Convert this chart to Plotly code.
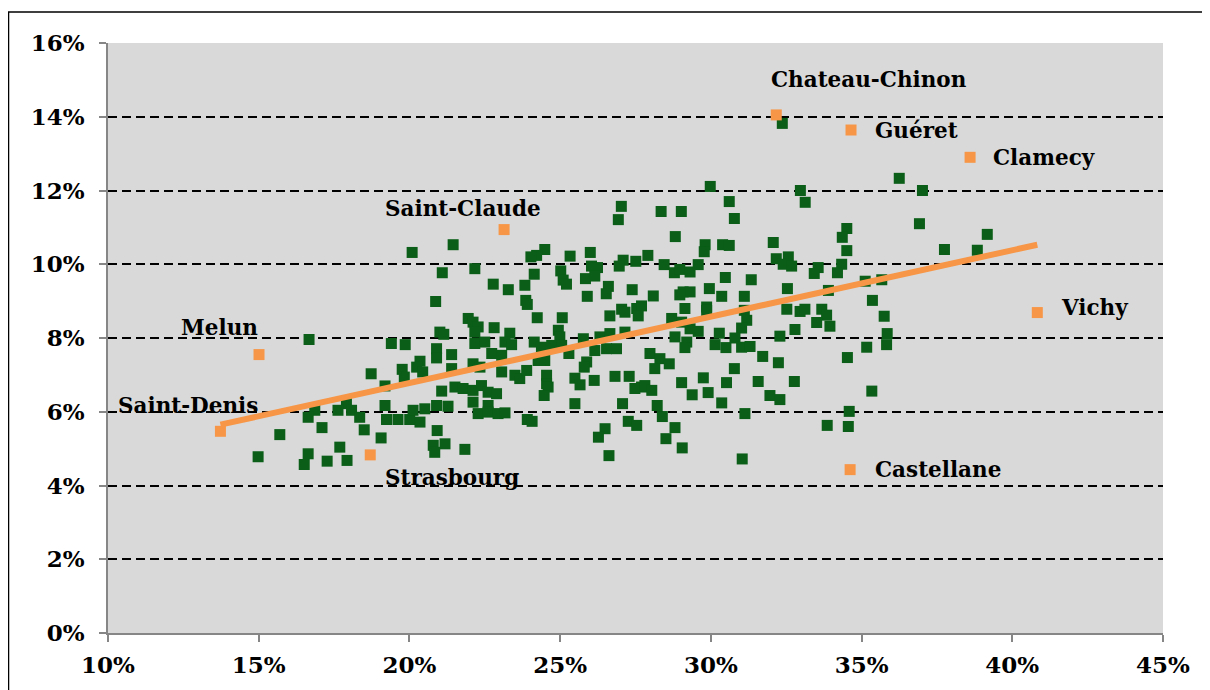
import plotly.graph_objects as go

# green points: (x %, y %)
other_x = [
    20.87, 16.67, 19.40, 19.86, 21.01, 20.90, 20.90, 20.35, 20.24, 20.44,
    19.76, 19.83, 18.73, 19.19, 21.07, 19.19, 17.91, 16.86, 17.63, 18.08,
    16.64, 18.35, 19.24, 19.62, 20.01, 20.35, 20.12, 20.51, 20.90, 17.10,
    18.50, 15.70, 20.92, 19.06, 17.69, 20.79, 20.84, 16.64, 16.51, 17.27,
    17.93, 14.98, 20.09, 21.09, 27.03, 26.93, 21.45, 24.49, 24.22, 24.03,
    25.33, 26.00, 27.09, 27.51, 27.91, 22.17, 24.14, 25.02, 26.04, 26.24,
    26.96, 25.10, 25.21, 25.84, 26.15, 26.60, 22.78, 23.28, 23.83, 27.39,
    25.90, 26.53, 32.37, 29.98, 32.97, 33.13, 30.61, 30.78, 28.35, 29.02,
    28.82, 29.81, 29.78, 30.39, 30.61, 32.07, 34.51, 34.36, 34.51, 28.45,
    28.79, 28.97, 29.31, 29.58, 32.17, 32.57, 32.40, 32.68, 33.56, 33.43,
    34.34, 34.20, 30.48, 31.34, 29.95, 29.08, 29.31, 28.97, 30.36, 31.11,
    32.54, 33.90, 28.09, 36.25, 37.02, 36.92, 37.75, 38.84, 39.17, 35.12,
    35.67, 23.86, 23.91, 27.04, 27.15, 27.54, 27.70, 27.59, 26.65, 21.95,
    22.11, 22.28, 22.81, 24.24, 25.07, 21.14, 22.17, 22.17, 22.50, 23.33,
    23.17, 23.39, 24.94, 24.99, 24.14, 24.38, 24.72, 25.05, 25.29, 25.77,
    26.32, 26.65, 27.15, 26.15, 26.54, 26.87, 21.40, 22.73, 23.06, 24.27,
    24.49, 25.88, 25.80, 27.98, 21.40, 22.11, 22.34, 23.06, 23.50, 23.66,
    23.89, 24.55, 24.55, 24.60, 25.49, 25.66, 26.13, 26.82, 27.29, 27.70,
    27.48, 27.81, 21.51, 21.78, 22.11, 22.39, 22.61, 22.89, 24.47, 22.11,
    21.28, 22.61, 22.28, 22.61, 22.94, 23.17, 25.49, 27.07, 23.91, 24.07,
    27.26, 27.54, 26.49, 26.27, 21.18, 21.84, 26.62, 29.14, 29.86, 29.86,
    31.11, 32.52, 32.96, 33.12, 33.68, 33.84, 28.70, 29.03, 31.19, 31.02,
    33.51, 33.95, 32.79, 29.31, 29.58, 28.81, 30.28, 29.20, 29.14, 30.14,
    30.50, 30.80, 31.02, 31.30, 32.29, 28.31, 28.62, 28.14, 31.72, 32.24,
    30.78, 34.53, 29.03, 29.75, 30.52, 31.57, 32.77, 28.04, 29.38, 29.91,
    30.36, 31.96, 32.29, 28.22, 28.39, 31.13, 34.59, 34.56, 33.86, 28.81,
    28.51, 29.05, 31.04, 35.36, 35.75, 35.85, 35.83, 35.17, 35.34,
]
other_y = [
    8.99, 7.96, 7.85, 7.82, 8.16, 7.71, 7.46, 7.37, 7.21, 7.08,
    7.15, 6.94, 7.03, 6.70, 6.56, 6.17, 6.22, 6.04, 6.04, 6.04,
    5.85, 5.85, 5.79, 5.79, 5.79, 5.72, 6.04, 6.08, 6.17, 5.57,
    5.51, 5.38, 5.49, 5.29, 5.04, 5.09, 4.90, 4.86, 4.57, 4.66,
    4.68, 4.78, 10.32, 9.77, 11.57, 11.21, 10.53, 10.40, 10.24, 10.20,
    10.22, 10.32, 10.11, 10.08, 10.24, 9.88, 9.73, 9.82, 9.95, 9.91,
    9.95, 9.57, 9.46, 9.61, 9.68, 9.40, 9.46, 9.31, 9.43, 9.31,
    9.13, 9.20, 13.82, 12.11, 12.00, 11.68, 11.70, 11.24, 11.43, 11.43,
    10.75, 10.53, 10.34, 10.53, 10.51, 10.59, 10.97, 10.73, 10.37, 9.99,
    9.77, 9.86, 9.79, 9.99, 10.15, 10.20, 10.00, 9.95, 9.91, 9.75,
    10.00, 9.77, 9.64, 9.58, 9.34, 9.25, 9.25, 9.17, 9.13, 9.13,
    9.34, 9.29, 9.14, 12.33, 12.00, 11.10, 10.40, 10.38, 10.81, 9.54,
    9.58, 9.02, 8.91, 8.78, 8.70, 8.80, 8.87, 8.60, 8.60, 8.53,
    8.43, 8.30, 8.28, 8.55, 8.55, 8.10, 8.16, 7.85, 7.89, 8.13,
    7.89, 7.82, 8.21, 8.03, 7.89, 7.75, 7.80, 7.80, 7.58, 7.98,
    8.03, 8.12, 8.16, 7.66, 7.71, 7.71, 7.55, 7.58, 7.53, 7.39,
    7.39, 7.35, 7.21, 7.58, 7.17, 7.30, 7.21, 7.08, 6.99, 6.90,
    7.12, 6.99, 6.76, 6.67, 6.91, 6.73, 6.85, 6.96, 6.96, 6.67,
    6.63, 6.71, 6.67, 6.63, 6.58, 6.71, 6.53, 6.49, 6.44, 6.26,
    6.15, 6.17, 5.95, 5.99, 5.95, 5.97, 6.22, 6.22, 5.79, 5.74,
    5.74, 5.63, 5.54, 5.31, 5.13, 4.98, 4.81, 8.80, 8.84, 8.75,
    8.75, 8.78, 8.72, 8.78, 8.78, 8.62, 8.53, 8.43, 8.48, 8.27,
    8.42, 8.32, 8.23, 8.25, 8.18, 8.03, 8.13, 7.89, 7.74, 7.82,
    7.74, 8.00, 7.75, 7.77, 8.05, 7.44, 7.30, 7.17, 7.50, 7.33,
    7.17, 7.47, 6.79, 6.92, 6.79, 6.82, 6.82, 6.58, 6.46, 6.52,
    6.24, 6.44, 6.33, 6.17, 5.87, 5.95, 6.01, 5.60, 5.63, 5.57,
    5.27, 5.02, 4.72, 9.02, 8.59, 8.12, 7.82, 7.75, 6.56,
]

# highlighted towns
town_names = ["Saint-Denis", "Melun", "Strasbourg", "Saint-Claude", "Chateau-Chinon",
              "Guéret", "Clamecy", "Vichy", "Castellane"]
town_x = [13.73, 15.01, 18.70, 23.14, 32.17, 34.65, 38.60, 40.83, 34.62]
town_y = [5.47, 7.55, 4.83, 10.94, 14.05, 13.64, 12.90, 8.69, 4.43]

# label offsets in pixels (left edge, vertical) from each town's marker
label_shift = {
    "Saint-Denis": (-104, 26), "Melun": (-80, 27), "Strasbourg": (13, -23),
    "Saint-Claude": (-121, 21), "Chateau-Chinon": (-7, 35), "Guéret": (22, 0),
    "Clamecy": (21, 0), "Vichy": (22, 5), "Castellane": (23, 0),
}

# trend line ends
trend_x = [13.73, 40.83]
trend_y = [5.65, 10.53]

FONT = "DejaVu Serif"
GREEN = "#0a5e17"
ORANGE = "#f79646"

fig = go.Figure()
fig.add_trace(go.Scatter(x=other_x, y=other_y, mode="markers",
                         marker=dict(symbol="square", size=11, color=GREEN),
                         showlegend=False))
fig.add_trace(go.Scatter(x=town_x, y=town_y, mode="markers",
                         marker=dict(symbol="square", size=11, color=ORANGE),
                         showlegend=False))
fig.add_trace(go.Scatter(x=trend_x, y=trend_y, mode="lines",
                         line=dict(color=ORANGE, width=6),
                         showlegend=False))

for name, x, y in zip(town_names, town_x, town_y):
    dx, dy = label_shift[name]
    fig.add_annotation(x=x, y=y, text=name, showarrow=False,
                       xanchor="left", yanchor="middle", xshift=dx, yshift=dy,
                       font=dict(family=FONT, size=21.5, color="black", weight="bold"))

# outer chart frame
fig.add_shape(type="rect", xref="paper", yref="paper",
              x0=-0.0943, x1=1.06, y0=-0.15, y1=1.0526,
              line=dict(color="black", width=1.5), layer="below")

fig.update_xaxes(range=[10, 45], dtick=5, ticksuffix="%",
                 showgrid=False, zeroline=False,
                 showline=True, linecolor="#868686", linewidth=1.5,
                 ticks="outside", ticklen=7, tickcolor="#868686", tickwidth=1.5,
                 ticklabelstandoff=4,
                 tickfont=dict(family=FONT, size=23, color="black", weight="bold"))
fig.update_yaxes(range=[0, 16], dtick=2, ticksuffix="%",
                 showgrid=True, gridcolor="black", gridwidth=2, griddash="9px,5px",
                 zeroline=False,
                 showline=True, linecolor="#868686", linewidth=1.5,
                 ticks="outside", ticklen=7, tickcolor="#868686", tickwidth=1.5,
                 ticklabelstandoff=10,
                 tickfont=dict(family=FONT, size=23, color="black", weight="bold"))

# page body adds 8px offset, so the figure is 8px smaller
fig.update_layout(width=1202, height=682,
                  margin=dict(l=100, r=47, t=35, b=50),
                  plot_bgcolor="#d9d9d9", paper_bgcolor="white")

fig.write_html("out.html")
